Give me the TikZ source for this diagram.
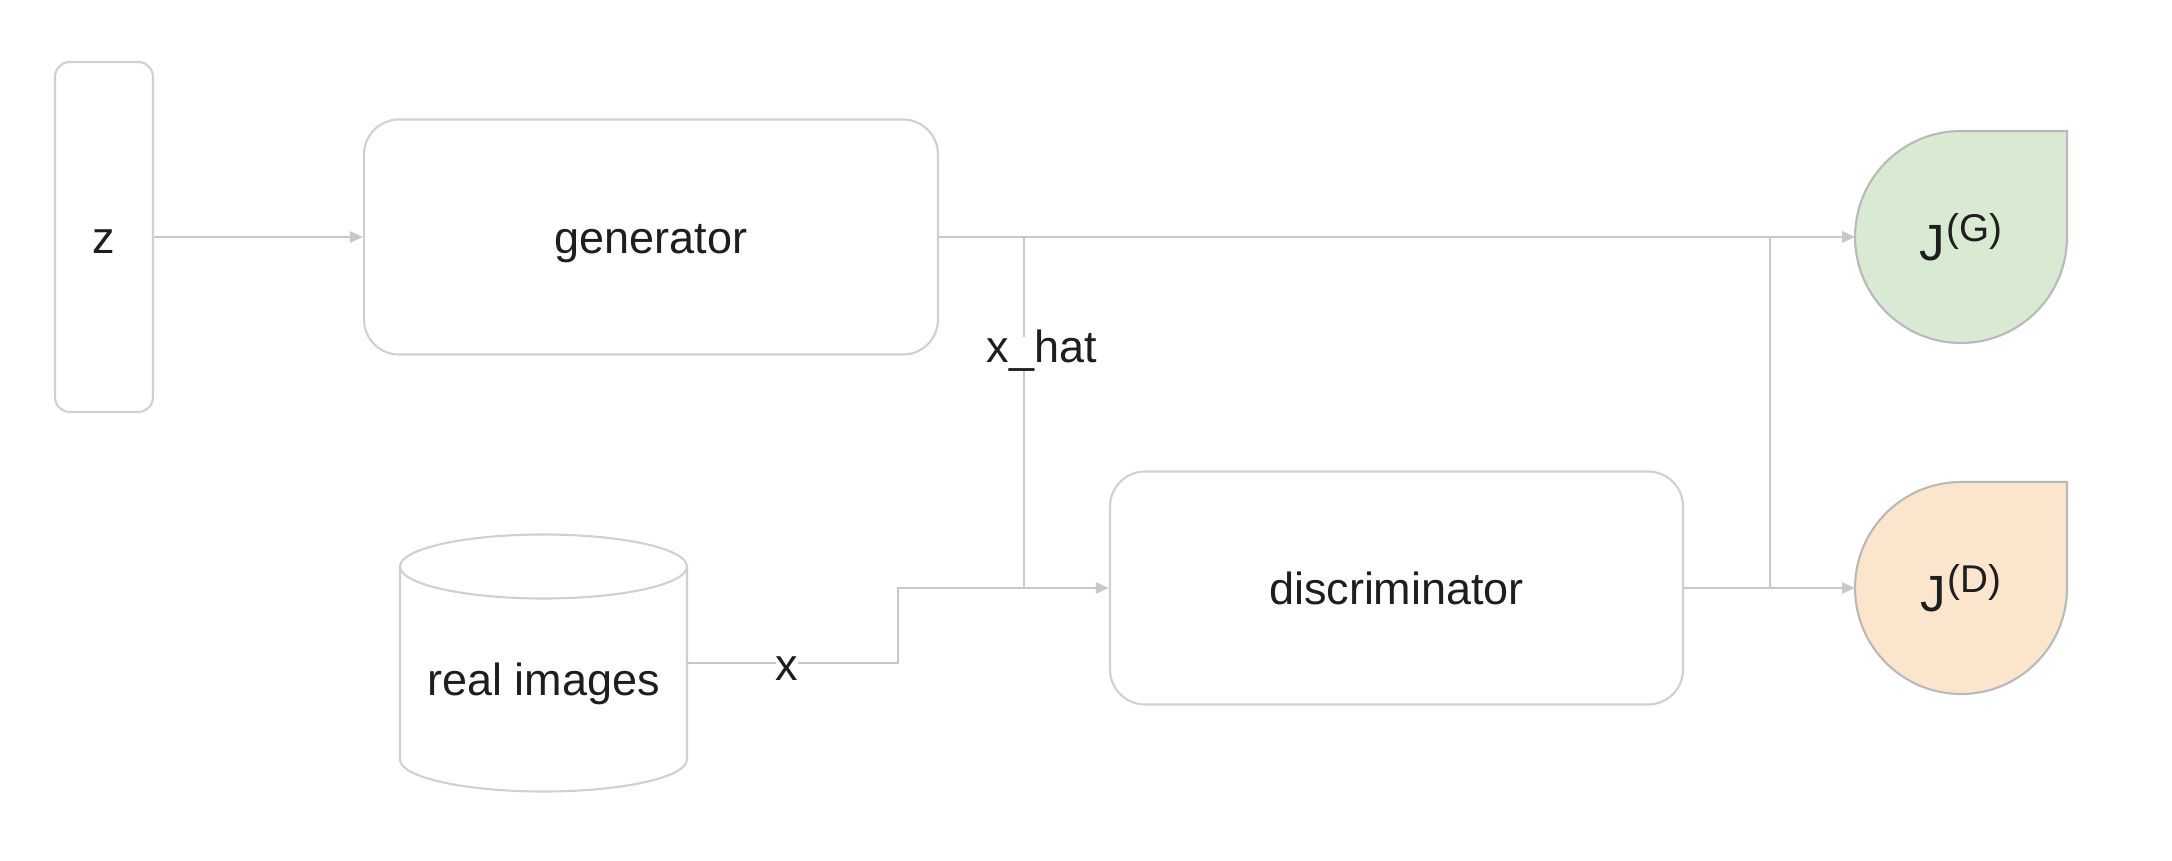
\documentclass[tikz,border=0pt]{standalone}
\usepackage{fontspec}
\setmainfont{Liberation Sans}
\usetikzlibrary{arrows.meta,backgrounds}

\definecolor{linegray}{RGB}{200,200,200}
\definecolor{boxgray}{RGB}{208,208,208}
\definecolor{jborder}{RGB}{185,185,185}
\definecolor{jgfill}{RGB}{217,234,211}
\definecolor{jdfill}{RGB}{252,229,205}
\definecolor{txt}{RGB}{30,30,30}

\newcommand{\jcost}[1]{{\fontsize{14.5}{17}\selectfont J\kern0.5pt\raisebox{5.5pt}{\fontsize{11}{13}\selectfont(#1)}}}

\begin{document}
\begin{tikzpicture}[
    every node/.style={text=txt, font=\fontsize{12.8}{15}\selectfont},
    block/.style={draw=boxgray, line width=0.6pt, rounded corners=0.35cm, inner sep=0,
        text height=1.1em, text depth=0.17em},
    link/.style={draw=linegray, line width=0.7pt},
    arr/.style={link, -{Triangle[length=1.3mm, width=1.1mm]}},
    lbl/.style={fill=white, inner sep=0, text height=0.73em, text depth=0.22em, anchor=base},
    cost/.style={circle, minimum size=2.12cm, inner sep=0, outer sep=0},
    can/.style={draw=boxgray, line width=0.6pt}
]

    \useasboundingbox (0,0) rectangle (21.72,8.6);

    % Noise input
    \node[block, rounded corners=0.15cm, minimum width=0.98cm, minimum height=3.5cm] (z) at (1.04,6.23) {z};

    % Generator
    \node[block, minimum width=5.74cm, minimum height=2.35cm] (gen) at (6.51,6.23) {generator};

    % Discriminator
    \node[block, minimum width=5.73cm, minimum height=2.33cm] (disc) at (13.965,2.72) {discriminator};

    % Real images (body of the can, ends drawn below)
    \node[minimum width=2.87cm, minimum height=1.93cm, inner sep=0, outer sep=0] (real) at (5.435,1.97) {};
    \draw[can] (real.north west) -- (real.south west)
        arc[start angle=180, end angle=360, x radius=1.435cm, y radius=0.32cm] -- (real.north east);
    \draw[can] (real.north) ellipse[x radius=1.435cm, y radius=0.32cm];
    \node[inner sep=0, text height=1.1em, text depth=0.17em] (realtxt) at (5.435,1.805) {real images};

    % Costs
    \node[cost] (jg) at (19.61,6.23) {\jcost{G}};
    \node[cost] (jd) at (19.61,2.72) {\jcost{D}};
    \begin{scope}[on background layer]
        \draw[draw=jborder, line width=0.6pt, fill=jgfill] (jg.north) -- (jg.north -| jg.east) -- (jg.east)
            arc[start angle=0, end angle=-270, radius=1.06cm] -- cycle;
        \draw[draw=jborder, line width=0.6pt, fill=jdfill] (jd.north) -- (jd.north -| jd.east) -- (jd.east)
            arc[start angle=0, end angle=-270, radius=1.06cm] -- cycle;
    \end{scope}

    % Connectors
    \coordinate (xsplit) at (10.24,6.23);
    \coordinate (fsplit) at (17.70,2.72);
    \coordinate (xstep) at (8.98,0);

    \draw[arr] (z.east) -- (gen.west);
    \draw[arr] (gen.east) -- (jg.west);
    \draw[link] (xsplit) -- (xsplit |- disc.west);
    \draw[arr] (real.east) -- (real.east -| xstep) |- (disc.west);
    \draw[arr] (disc.east) -- (jd.west);
    \draw[arr] (fsplit) |- (jg.west);

    % Labels
    \node[lbl] (xhat) at (10.42,4.97) {x\_hat};
    \node[lbl] (xlab) at (7.87,1.80) {x};

\end{tikzpicture}
\end{document}
